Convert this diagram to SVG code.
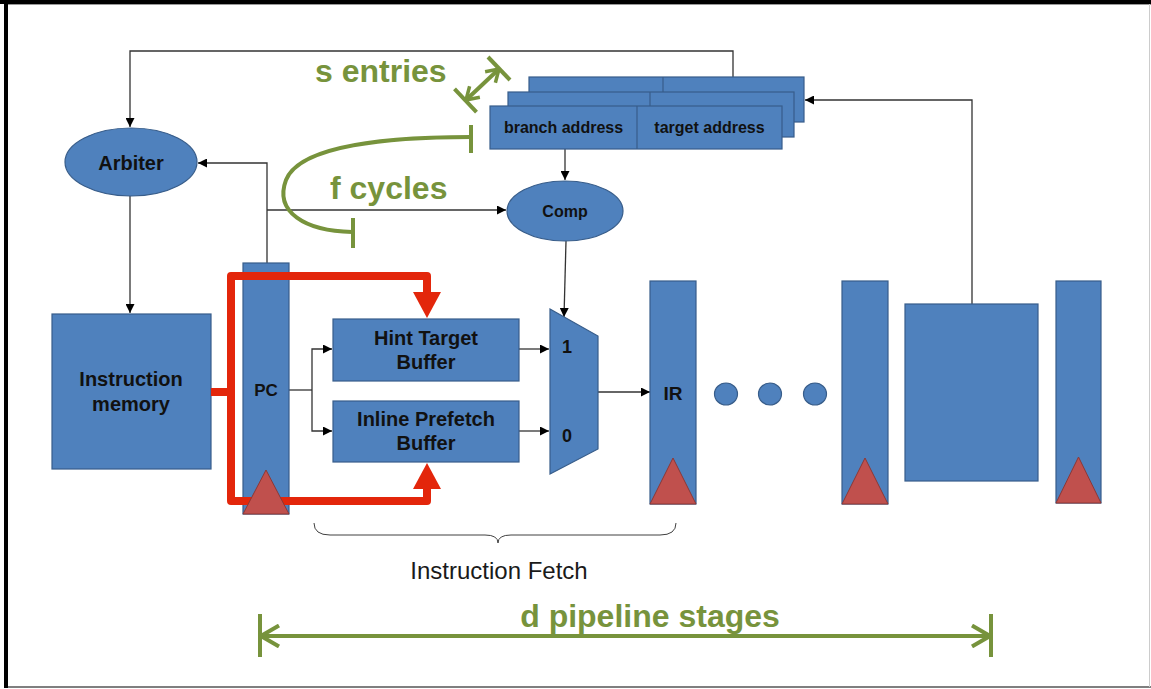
<svg xmlns="http://www.w3.org/2000/svg" width="1151" height="689" viewBox="0 0 1151 689">
<style>
.b{fill:#4F81BD;stroke:#385D8A;stroke-width:1.2}
.tri{fill:#C0504D;stroke:#8C3836;stroke-width:1}
.t{font-family:"Liberation Sans",Arial,sans-serif;font-weight:bold;fill:#111;text-anchor:middle}
.g{font-family:"Liberation Sans",Arial,sans-serif;font-weight:bold;fill:#77933C;font-size:32px}
.c{fill:none;stroke:#333;stroke-width:1.3}
.gl{fill:none;stroke:#77933C;stroke-width:4}
.red{fill:none;stroke:#E3260B;stroke-width:8;stroke-linejoin:round;stroke-linecap:butt}
</style>
<defs>
<marker id="ah" viewBox="0 0 10 10" refX="10" refY="5" markerWidth="9" markerHeight="9" markerUnits="userSpaceOnUse" orient="auto"><path d="M0,0 L10,5 L0,10 z" fill="#000"/></marker>
<marker id="gv" viewBox="0 0 22 24" refX="20" refY="12" markerWidth="22" markerHeight="24" markerUnits="userSpaceOnUse" orient="auto-start-reverse"><path d="M2,1.5 L20,12 L2,22.5" fill="none" stroke="#77933C" stroke-width="4"/></marker>
<marker id="gs" viewBox="0 0 16 18" refX="14" refY="9" markerWidth="16" markerHeight="18" markerUnits="userSpaceOnUse" orient="auto-start-reverse"><path d="M2,1.5 L14,9 L2,16.5" fill="none" stroke="#77933C" stroke-width="3.5"/></marker>
</defs>
<rect x="0" y="0" width="1151" height="689" fill="#fff"/>
<g id="frame">
<rect x="0" y="0" width="1151" height="4" fill="#000"/>
<rect x="4" y="0" width="4" height="688" fill="#000"/>
<line x1="8" y1="4.5" x2="1151" y2="4.5" stroke="#999" stroke-width="1"/>
<line x1="8" y1="687" x2="1151" y2="687" stroke="#555" stroke-width="1.5"/>
<line x1="1149.5" y1="4" x2="1149.5" y2="687" stroke="#ccc" stroke-width="1"/>
</g>
<g id="connectors">
<path class="c" d="M733,77 V51 H130 V127" marker-end="url(#ah)"/>
<path class="c" d="M972,304 V100 H805" marker-end="url(#ah)"/>
<path class="c" d="M130,196 V313" marker-end="url(#ah)"/>
<path class="c" d="M267,263 V163 H198" marker-end="url(#ah)"/>
<path class="c" d="M267,210 H506" marker-end="url(#ah)"/>
<path class="c" d="M565,149 V180" marker-end="url(#ah)"/>
<path class="c" d="M566,241 L564,317" marker-end="url(#ah)"/>
<path class="c" d="M289,390 H312"/>
<path class="c" d="M312,390 V349 H332" marker-end="url(#ah)"/>
<path class="c" d="M312,390 V431 H332" marker-end="url(#ah)"/>
<path class="c" d="M519,349 H549" marker-end="url(#ah)"/>
<path class="c" d="M519,431 H549" marker-end="url(#ah)"/>
<path class="c" d="M598,392 H650" marker-end="url(#ah)"/>
</g>
<g id="arbiter"><ellipse class="b" cx="131" cy="162" rx="66" ry="34"/><text class="t" x="131" y="170" font-size="20">Arbiter</text></g>
<g id="btb">
<rect class="b" x="529" y="77" width="275" height="45"/><line x1="663" y1="77" x2="663" y2="122" stroke="#385D8A" stroke-width="1.2"/>
<rect class="b" x="508" y="92" width="286" height="45"/><line x1="650" y1="92" x2="650" y2="137" stroke="#385D8A" stroke-width="1.2"/>
<rect class="b" x="490" y="106" width="292" height="43"/><line x1="637" y1="106" x2="637" y2="149" stroke="#385D8A" stroke-width="1.2"/>
<text class="t" x="563.5" y="133" font-size="16">branch address</text>
<text class="t" x="709.5" y="133" font-size="16">target address</text>
</g>
<g id="comp"><ellipse class="b" cx="565" cy="211" rx="58" ry="30"/><text class="t" x="565" y="217" font-size="16">Comp</text></g>
<g id="imem"><rect class="b" x="52" y="314" width="159" height="155"/><text class="t" x="131" y="386" font-size="20">Instruction</text><text class="t" x="131" y="411" font-size="20">memory</text></g>
<g id="pc"><rect class="b" x="243" y="263" width="46" height="251"/><text class="t" x="266" y="396" font-size="17">PC</text></g>
<g id="htb"><rect class="b" x="333" y="319" width="186" height="62"/><text class="t" x="426" y="345" font-size="20">Hint Target</text><text class="t" x="426" y="369" font-size="20">Buffer</text></g>
<g id="ipb"><rect class="b" x="333" y="401" width="186" height="61"/><text class="t" x="426" y="426" font-size="20">Inline Prefetch</text><text class="t" x="426" y="450" font-size="20">Buffer</text></g>
<g id="mux"><polygon class="b" points="550,309 598,336 598,449 550,474"/><text class="t" x="567" y="353" font-size="18">1</text><text class="t" x="567" y="442" font-size="18">0</text></g>
<g id="ir"><rect class="b" x="650" y="281" width="46" height="223"/><text class="t" x="673" y="400" font-size="19">IR</text></g>
<g id="dots"><ellipse class="b" cx="726" cy="394" rx="11.5" ry="11"/><ellipse class="b" cx="770" cy="394" rx="11.5" ry="11"/><ellipse class="b" cx="815" cy="394" rx="11.5" ry="11"/></g>
<g id="reg2"><rect class="b" x="842" y="281" width="46" height="223"/></g>
<g id="stage"><rect class="b" x="905" y="304" width="133" height="177"/></g>
<g id="reg3"><rect class="b" x="1056" y="281" width="45" height="222"/></g>
<g id="redpaths">
<path class="red" d="M211,392 H231"/>
<path class="red" d="M427,296 V276 H231 V501 H427 V486"/>
<polygon points="413,292 441,292 427,318" fill="#E3260B"/>
<polygon points="413,489 441,489 427,463" fill="#E3260B"/>
</g>
<g id="clocks">
<polygon class="tri" points="243,514 289,514 266,470"/>
<polygon class="tri" points="650,504 696,504 673,458"/>
<polygon class="tri" points="842,504 888,504 865,458"/>
<polygon class="tri" points="1056,503 1101,503 1078.5,457"/>
</g>
<g id="annotations">
<text class="g" x="315" y="82">s entries</text>
<line class="gl" x1="466" y1="100" x2="499" y2="69" stroke-width="3.5" marker-start="url(#gs)" marker-end="url(#gs)"/>
<line class="gl" x1="454.5" y1="88.8" x2="476.5" y2="112.2" stroke-width="3.5"/>
<line class="gl" x1="488" y1="57" x2="510" y2="80" stroke-width="3.5"/>
<text class="g" x="330" y="199">f cycles</text>
<path class="gl" d="M471,137 C390,137 300,145 286,180 C274,212 305,231 352,232" stroke-width="3"/>
<line class="gl" x1="471" y1="125" x2="471" y2="153" stroke-width="3.5"/>
<line class="gl" x1="353" y1="218" x2="353" y2="248" stroke-width="3.5"/>
<path d="M314,523 Q314,535 330,535 H485 Q498,535 498,543 Q498,535 511,535 H660 Q676,535 676,523" fill="none" stroke="#404040" stroke-width="1"/>
<text x="499" y="579" font-family="Liberation Sans,Arial,sans-serif" font-size="24" fill="#1a1a1a" text-anchor="middle">Instruction Fetch</text>
<text class="g" x="650" y="627" text-anchor="middle">d pipeline stages</text>
<line class="gl" x1="261" y1="636" x2="990" y2="636" marker-start="url(#gv)" marker-end="url(#gv)"/>
<line class="gl" x1="260" y1="614" x2="260" y2="657"/>
<line class="gl" x1="991" y1="614" x2="991" y2="657"/>
</g>
</svg>
